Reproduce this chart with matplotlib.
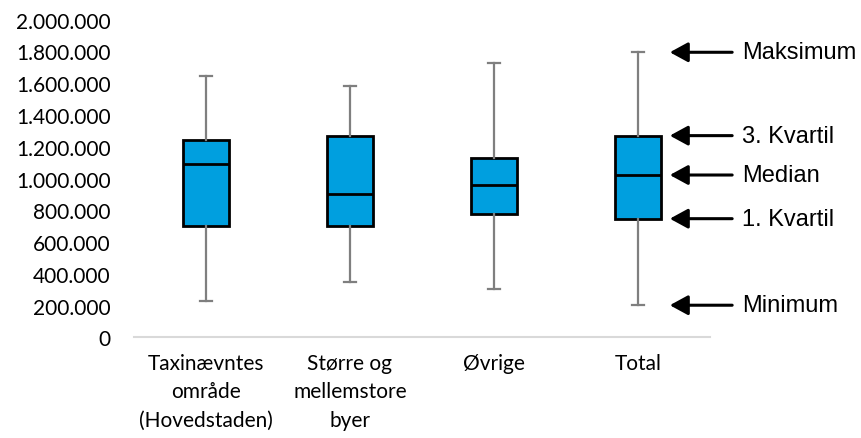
import matplotlib.pyplot as plt
from matplotlib.ticker import FuncFormatter

# Boksplot: fordeling pr. område (min, 1. kvartil, median, 3. kvartil, maks)
kategorier = ['Taxinævntes\nområde\n(Hovedstaden)', 'Større og\nmellemstore\nbyer', 'Øvrige', 'Total']
minimum = [230000, 350000, 302000, 202000]
kvartil1 = [700000, 701000, 775000, 747000]
median = [1089000, 900000, 959000, 1022000]
kvartil3 = [1244000, 1266000, 1127000, 1270000]
maksimum = [1645000, 1581000, 1727000, 1795000]

pile_tekst = ['Maksimum', '3. Kvartil', 'Median', '1. Kvartil', 'Minimum']

fig = plt.figure(figsize=(8.62, 4.39), dpi=100)
ax = fig.add_axes([0.1555, 0.2294, 0.668, 0.7234])

stats = []
for i in range(len(kategorier)):
    stats.append(dict(whislo=minimum[i], q1=kvartil1[i], med=median[i],
                      q3=kvartil3[i], whishi=maksimum[i], fliers=[]))

pos = list(range(len(kategorier)))
ax.bxp(stats, positions=pos, widths=0.317, capwidths=0.08, patch_artist=True,
       showfliers=False,
       boxprops=dict(facecolor='#009FDF', edgecolor='black', linewidth=2),
       medianprops=dict(color='black', linewidth=2),
       whiskerprops=dict(color='#7F7F7F', linewidth=1.6),
       capprops=dict(color='#7F7F7F', linewidth=1.6))

ax.set_xlim(-0.5, 3.5)
ax.set_ylim(0, 2000000)
ax.set_yticks(range(0, 2000001, 200000))
ax.yaxis.set_major_formatter(FuncFormatter(lambda v, p: f'{int(v):,}'.replace(',', '.')))
ax.set_xticks(pos)
ax.set_xticklabels(kategorier, linespacing=1.55, fontfamily='Lato', fontsize=15)
for lbl in ax.get_yticklabels():
    lbl.set_fontfamily('Lato')
    lbl.set_fontsize(15)
ax.tick_params(axis='y', length=0, pad=17)
ax.tick_params(axis='x', length=0, pad=11)

for s in ['top', 'right', 'left']:
    ax.spines[s].set_visible(False)
ax.spines['bottom'].set_color('#D9D9D9')
ax.spines['bottom'].set_linewidth(1.5)

# pile der forklarer boksen for Total
vaerdier = [maksimum[3], kvartil3[3], median[3], kvartil1[3], minimum[3]]
for tekst, v in zip(pile_tekst, vaerdier):
    ax.annotate('', xy=(3.222, v), xytext=(3.655, v), annotation_clip=False,
                arrowprops=dict(arrowstyle='-|>,head_length=1.1,head_width=0.6',
                                color='black', linewidth=2.2, shrinkA=0, shrinkB=0))
    ax.text(3.725, v, tekst, ha='left', va='center', fontsize=17,
            fontfamily='Liberation Sans', clip_on=False)

plt.savefig('out.png', dpi=100)
